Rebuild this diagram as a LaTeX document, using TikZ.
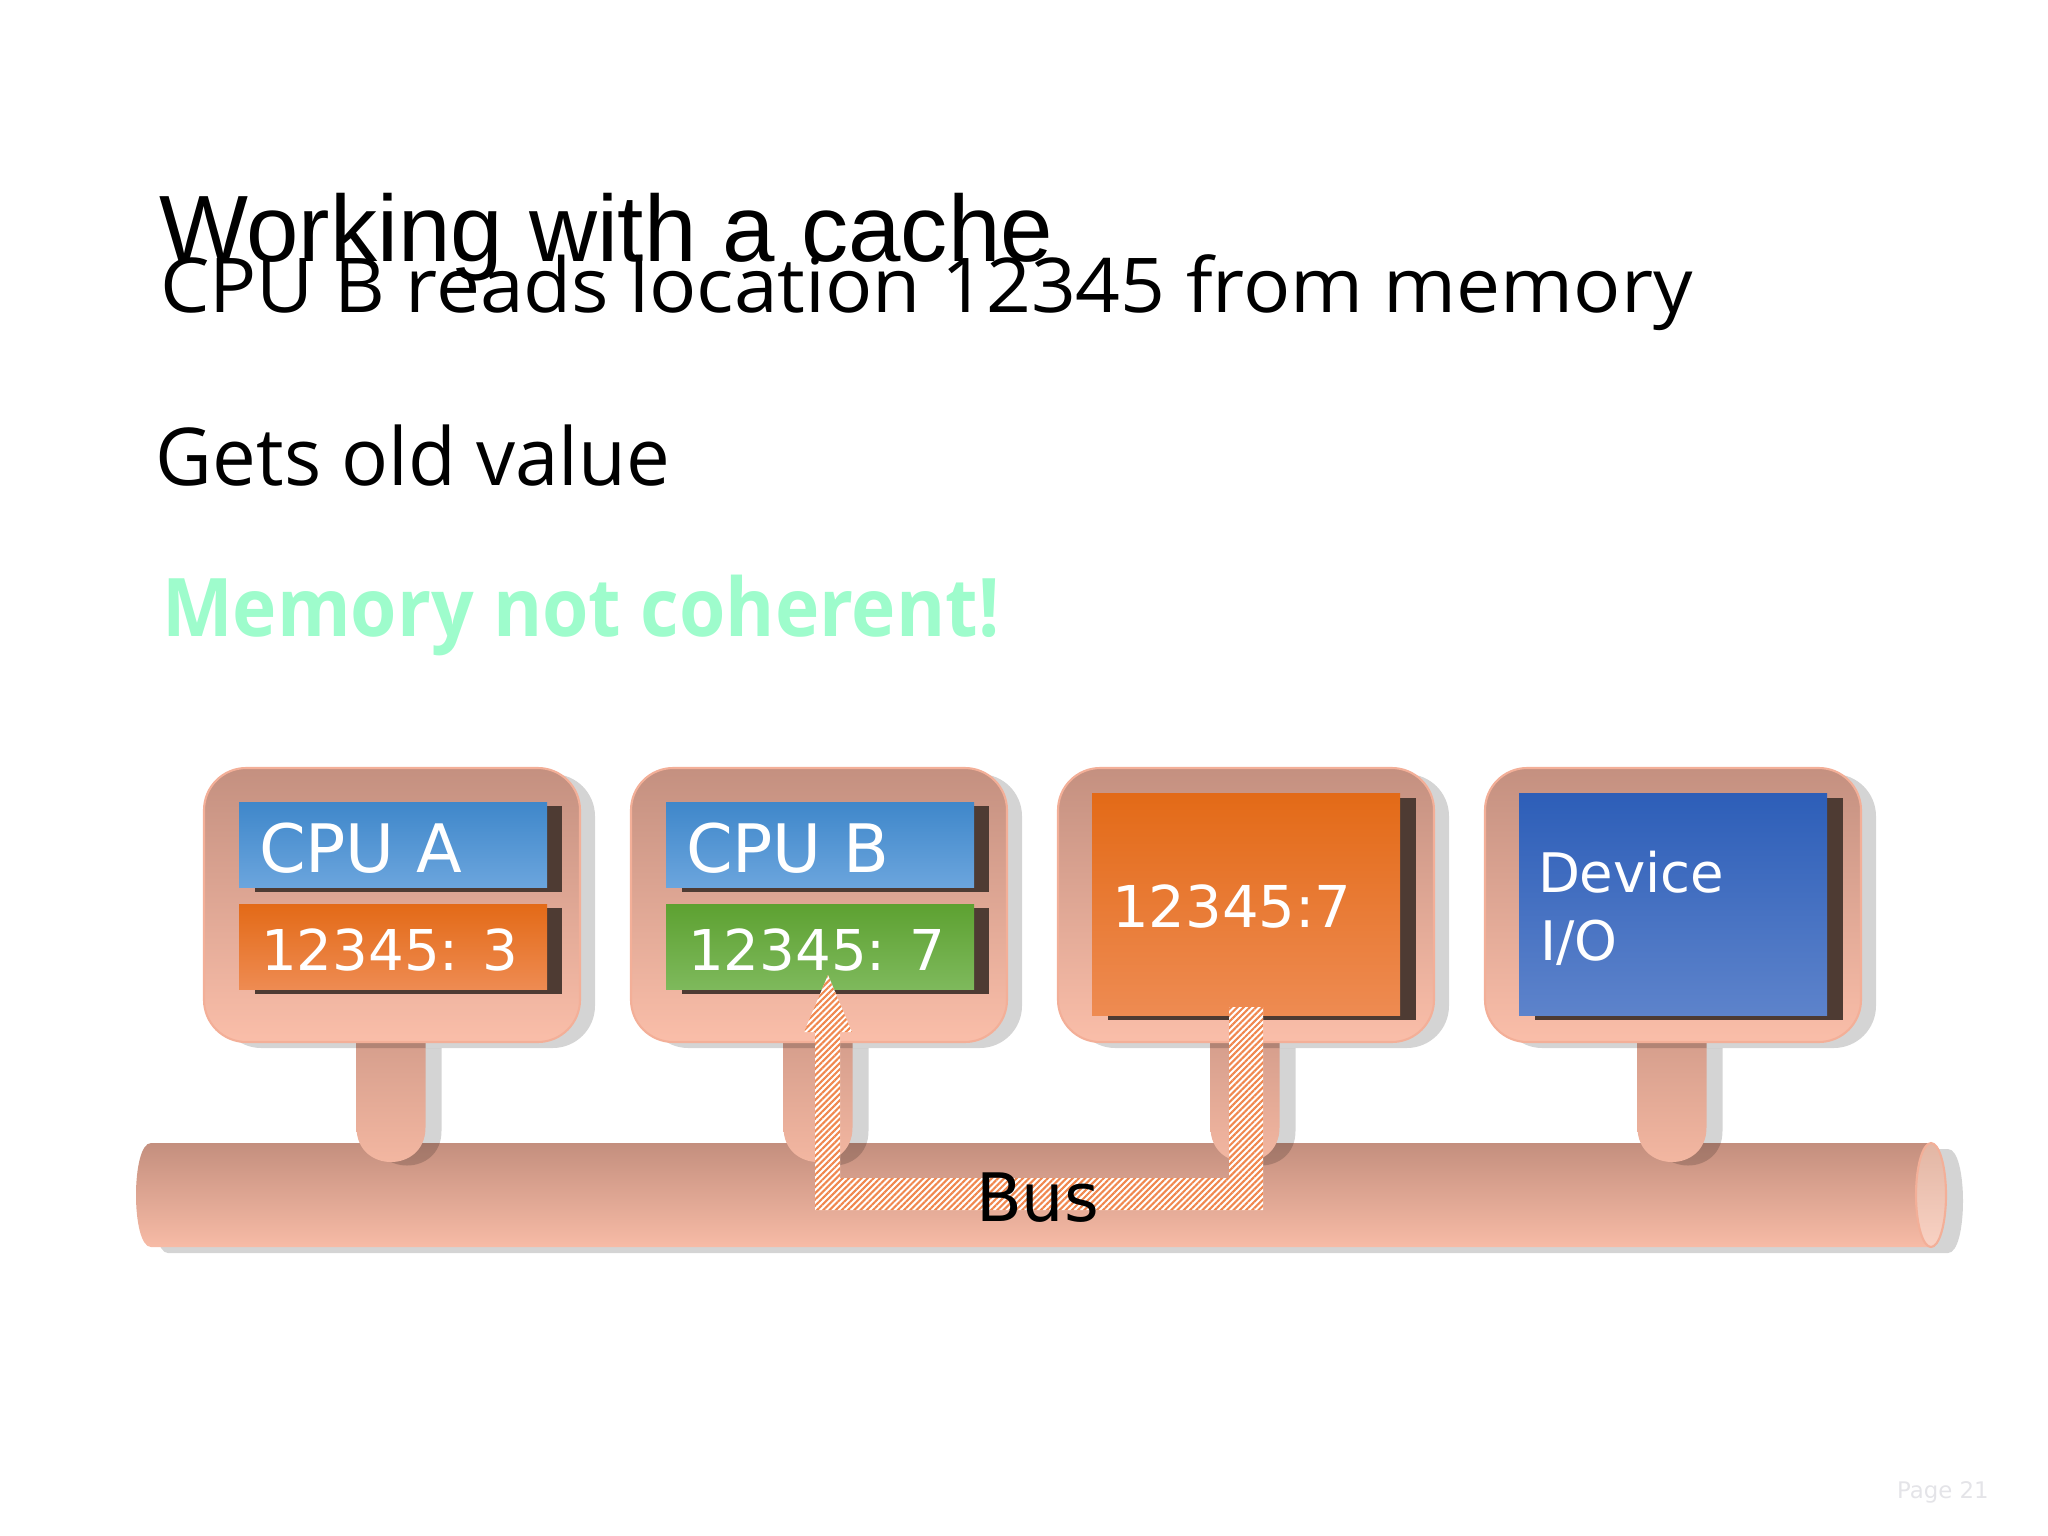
\documentclass[tikz,border=0pt]{standalone}
\usepackage{fontspec}
\setmainfont{DejaVu Sans}
\newfontfamily\titlefont{Liberation Sans}
\newfontfamily\comicfont{Open Sans}
\usetikzlibrary{patterns.meta}
\definecolor{boxtop}{HTML}{C49080}
\definecolor{boxbot}{HTML}{FABEA9}
\definecolor{boxedge}{HTML}{F3AF98}
\definecolor{bustop}{HTML}{C48F7E}
\definecolor{busbot}{HTML}{F7BBA6}
\definecolor{stemtop}{HTML}{D49D8B}
\definecolor{stembot}{HTML}{F6B9A3}
\definecolor{endtop}{HTML}{E2B6A4}
\definecolor{endbot}{HTML}{F9D2C4}
\definecolor{hdrtop}{HTML}{3F87CA}
\definecolor{hdrbot}{HTML}{6BA5DD}
\definecolor{orgtop}{HTML}{E36A17}
\definecolor{orgbot}{HTML}{EE8B52}
\definecolor{grntop}{HTML}{5DA131}
\definecolor{grnbot}{HTML}{7EB95C}
\definecolor{devtop}{HTML}{2D5EB8}
\definecolor{devbot}{HTML}{5D83CB}
\definecolor{darksh}{HTML}{4E3B33}
\definecolor{mint}{HTML}{9EFCCC}
\definecolor{hatch}{HTML}{F0874E}
\definecolor{pagegray}{HTML}{E4E4E8}
\newsavebox\fitbox
\newlength\fitlen
\newcommand\fitw[2]{\sbox\fitbox{#2}\setlength\fitlen{\wd\fitbox}\pgfmathsetmacro\fitratio{#1/\fitlen}\scalebox{\fitratio}[1]{\usebox\fitbox}}
\newcommand\drawpanel[1]{%
  \fill[shadowfill,rounded corners=12pt] (#1+15,774) rectangle (#1+391,1048);
  \path[panelbody,rounded corners=12pt] (#1,768) rectangle (#1+376,1042);}
\newcommand\smallrect[4]{%
  \fill[darksh] (#1+51,#2+4) rectangle (#1+358,#2+90);
  \path[top color=#3,bottom color=#4] (#1+35,#2) rectangle (#1+343,#2+85);}
\newcommand\bigrect[3]{%
  \fill[darksh] (#1+50,798) rectangle (#1+358,1020);
  \path[top color=#2,bottom color=#3] (#1+34,793) rectangle (#1+342,1015);}
\newcommand\stem[1]{%
  \fill[shadowfill] (#1-18.5,1048) -- (#1-18.5,1131) .. controls (#1-18.5,1177) and (#1+50.5,1177) .. (#1+50.5,1131) -- (#1+50.5,1048) -- cycle;
  \path[top color=stemtop,bottom color=stembot] (#1-34.5,1035) -- (#1-34.5,1127.5) .. controls (#1-34.5,1173.5) and (#1+34.5,1173.5) .. (#1+34.5,1127.5) -- (#1+34.5,1035) -- cycle;}
\begin{document}
\begin{tikzpicture}[x=0.01cm,y=-0.01cm,
  shadowfill/.style={fill=black,fill opacity=0.17},
  panelbody/.style={top color=boxtop,bottom color=boxbot,draw=boxedge,line width=0.6pt},
  txt/.style={anchor=base west,inner sep=0pt,outer sep=0pt},
  wtxt/.style={txt,text=white}]
\useasboundingbox (0,0) rectangle (2048,1536);
% headings
\node[txt,font=\titlefont\fontsize{26.8pt}{30pt}\selectfont] (title) at (159,261) {Working with a cache};
\node[txt,font=\comicfont\fontsize{21.5pt}{26pt}\selectfont] (line1) at (160,312) {\fitw{15.32cm}{CPU B reads location 12345 from memory}};
\node[txt,font=\comicfont\fontsize{22.7pt}{26pt}\selectfont] (line2) at (156,485) {\fitw{5.14cm}{Gets old value}};
\node[txt,text=mint,font=\comicfont\bfseries\fontsize{23pt}{26pt}\selectfont] (line3) at (162,636) {\fitw{8.37cm}{Memory not coherent!}};
% bus
\fill[shadowfill] (168,1149) -- (1948,1149) .. controls (1968,1149) and (1968,1253) .. (1948,1253) -- (168,1253) .. controls (148,1253) and (148,1149) .. (168,1149) -- cycle;
\path[top color=bustop,bottom color=busbot] (151,1143) -- (1931,1143) -- (1931,1247) -- (151,1247) .. controls (131,1247) and (131,1143) .. (151,1143) -- cycle;
\path[top color=endtop,bottom color=endbot,draw=boxedge,line width=0.6pt] (1931,1195) ellipse (15 and 52);
% stems
\stem{391}
\stem{818}
\stem{1245}
\stem{1672}
% panels
\drawpanel{204}
\drawpanel{631}
\drawpanel{1058}
\drawpanel{1485}
\smallrect{204}{802}{hdrtop}{hdrbot}
\smallrect{204}{904}{orgtop}{orgbot}
\smallrect{631}{802}{hdrtop}{hdrbot}
\smallrect{631}{904}{grntop}{grnbot}
\bigrect{1058}{orgtop}{orgbot}
\bigrect{1485}{devtop}{devbot}
% texts in panels
\node[wtxt,font=\fontsize{19pt}{22pt}\selectfont] (cpua) at (259,872) {CPU A};
\node[wtxt,font=\fontsize{16pt}{19pt}\selectfont] (vala) at (261,970) {12345: 3};
\node[wtxt,font=\fontsize{19pt}{22pt}\selectfont] (cpub) at (686,872) {CPU B};
\node[wtxt,font=\fontsize{16pt}{19pt}\selectfont] (valb) at (688,970) {12345: 7};
\node[wtxt,font=\fontsize{16.4pt}{19pt}\selectfont] (mem) at (1112,927) {12345:7};
\node[wtxt,font=\fontsize{15.5pt}{19pt}\selectfont] (dev1) at (1538,892) {Device};
\node[wtxt,font=\fontsize{15.5pt}{19pt}\selectfont] (dev2) at (1540,960) {I/O};
% hatched transfer arrow
\path[preaction={fill=white},pattern={Lines[angle=45,distance=1.25pt,line width=0.6pt]},pattern color=hatch]
  (828,975) -- (852,1032) -- (840,1032) -- (840,1178) -- (1229,1178) -- (1229,1007) -- (1263,1007) -- (1263,1210) -- (815,1210) -- (815,1032) -- (804,1032) -- cycle;
\node[txt,font=\fontsize{19pt}{22pt}\selectfont] (bus) at (976,1221) {Bus};
\node[txt,text=pagegray,font=\fontsize{6.5pt}{8pt}\selectfont] (page) at (1897,1498) {Page 21};
\end{tikzpicture}
\end{document}
